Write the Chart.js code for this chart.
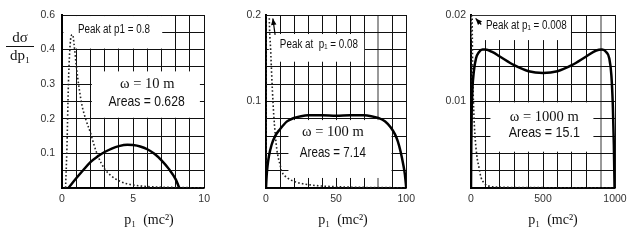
<!DOCTYPE html>
<html>
<head>
<meta charset="utf-8">
<script src="https://cdn.jsdelivr.net/npm/chart.js@4.4.1/dist/chart.umd.min.js"></script>
<style>
  html, body { margin: 0; padding: 0; background: #fff; }
  #wrap { position: relative; width: 634px; height: 242px; overflow: hidden; }
  .panel { position: absolute; top: 0; height: 242px; }
</style>
</head>
<body>
<div id="wrap">
  <div class="panel" style="left:0;width:215px"><canvas id="c1"></canvas></div>
  <div class="panel" style="left:215px;width:205px"><canvas id="c2"></canvas></div>
  <div class="panel" style="left:420px;width:214px"><canvas id="c3"></canvas></div>
</div>
<script>
// ===============================
// Data (omega = 10, 100, 1000 m)
// ===============================

// omega = 10 m
const solidX10 = [0.45, 1, 1.5, 2, 2.5, 3, 3.5, 4, 4.6, 5, 5.5, 6, 6.5, 7, 7.5, 8, 8.25];
const solidY10 = [0, 0.028, 0.052, 0.075, 0.091, 0.104, 0.114, 0.121, 0.125, 0.124, 0.12, 0.112, 0.099, 0.08, 0.056, 0.025, 0];
const dotX10 = [0.25, 0.35, 0.45, 0.55, 0.65, 0.75, 0.85, 1.0, 1.2, 1.4, 1.7, 2.0, 2.25, 2.5, 3.0, 3.5, 4.0, 4.5, 5.5, 6.5, 8, 10];
const dotY10 = [0, 0.12, 0.3, 0.4, 0.44, 0.443, 0.415, 0.355, 0.29, 0.24, 0.195, 0.16, 0.125, 0.095, 0.055, 0.034, 0.021, 0.013, 0.006, 0.003, 0.0015, 0.0005];

// omega = 100 m
const solidX100 = [0, 0.5, 1, 2, 4, 6.5, 10, 15, 20, 25, 30, 40, 50, 60, 70, 75, 80, 85, 89, 92, 94, 96, 98, 99, 100];
const solidY100 = [0, 0.015, 0.024, 0.036, 0.05, 0.06, 0.068, 0.077, 0.081, 0.083, 0.084, 0.084, 0.0835, 0.084, 0.084, 0.083, 0.081, 0.077, 0.07, 0.062, 0.054, 0.042, 0.026, 0.016, 0];
const dotX100 = [0, 0.08, 1.5, 2.3, 3.3, 4.5, 5.5, 7.7, 10, 11.3, 15, 20.6, 32, 55, 80, 100];
const dotY100 = [0, 0.9, 0.3, 0.2, 0.16, 0.115, 0.085, 0.045, 0.027, 0.019, 0.012, 0.0073, 0.0035, 0.0012, 0.0005, 0.0003];

// omega = 1000 m
const solidX1000 = [0, 2, 5, 10, 20, 35, 55, 80, 100, 150, 200, 300, 400, 500, 600, 700, 800, 870, 910, 940, 960, 975, 985, 992, 997];
const solidY1000 = [0, 0.005, 0.009, 0.0115, 0.0135, 0.015, 0.0157, 0.016, 0.016, 0.0157, 0.0152, 0.0142, 0.0135, 0.0133, 0.0135, 0.0142, 0.0152, 0.0159, 0.016, 0.0157, 0.015, 0.013, 0.0095, 0.005, 0];
const dotX1000 = [0, 1, 8, 14, 20, 28, 40, 55, 70, 90, 110, 200, 400, 1000];
const dotY1000 = [0, 0.05, 0.02, 0.012, 0.0085, 0.006, 0.0038, 0.0024, 0.0012, 0.0006, 0.0003, 0.0001, 0.00005, 0];

// Tick labels (only these ticks carry text; the rest are bare grid lines)
const xTicks10 = [0, 5, 10],        xLabels10 = ['0', '5', '10'];
const xTicks100 = [0, 50, 100],     xLabels100 = ['0', '50', '100'];
const xTicks1000 = [0, 500, 1000],  xLabels1000 = ['0', '500', '1000'];
const yTicks10 = [0.1, 0.2, 0.3, 0.4, 0.5], yLabels10 = ['0.1', '0.2', '0.3', '0.4', '0.6'];
const yTicks100 = [0.1, 0.2],       yLabels100 = ['0.1', '0.2'];
const yTicks1000 = [0.01, 0.02],    yLabels1000 = ['0.01', '0.02'];

const SANS = "'Liberation Sans', Arial, sans-serif";
const SERIF = "'Liberation Serif', 'Times New Roman', serif";

const pts = (xs, ys) => xs.map((x, i) => ({ x, y: ys[i] }));
const labelFor = (ticks, labels) => v => {
  const i = ticks.findIndex(t => Math.abs(t - v) < 1e-9);
  return i < 0 ? '' : labels[i];
};

// ===============================
// Annotation plugin: white boxes, notes, arrows, axis titles
// ===============================
const notes = {
  id: 'notes',
  beforeDatasetsDraw(chart, args, opts) {
    const { ctx, scales: { x, y } } = chart;
    ctx.save();
    ctx.fillStyle = '#fff';
    (opts.boxes || []).forEach(b => {
      const x0 = x.getPixelForValue(b[0]), x1 = x.getPixelForValue(b[1]);
      const y0 = y.getPixelForValue(b[3]), y1 = y.getPixelForValue(b[2]);
      ctx.fillRect(x0, y0, x1 - x0, y1 - y0);
    });
    ctx.restore();
  },
  afterDatasetsDraw(chart, args, opts) {
    const { ctx, scales: { x, y } } = chart;
    ctx.save();
    ctx.textAlign = 'center';
    ctx.textBaseline = 'middle';
    (opts.texts || []).forEach(t => {
      // sans notes in the original are set narrow, so squeeze them a bit
      ctx.save();
      ctx.translate(x.getPixelForValue(t.x), y.getPixelForValue(t.y));
      ctx.scale(t.squeeze || 1, 1);
      ctx.font = t.font;
      ctx.fillStyle = '#111';
      ctx.fillText(t.text, 0, 0);
      ctx.restore();
    });
    (opts.arrows || []).forEach(a => {
      const x0 = x.getPixelForValue(a[0]), y0 = y.getPixelForValue(a[1]);
      const x1 = x.getPixelForValue(a[2]), y1 = y.getPixelForValue(a[3]);
      const ang = Math.atan2(y1 - y0, x1 - x0);
      ctx.strokeStyle = '#000';
      ctx.fillStyle = '#000';
      ctx.lineWidth = 1.2;
      ctx.beginPath(); ctx.moveTo(x0, y0); ctx.lineTo(x1, y1); ctx.stroke();
      ctx.beginPath();
      ctx.moveTo(x1, y1);
      ctx.lineTo(x1 - 7 * Math.cos(ang - 0.4), y1 - 7 * Math.sin(ang - 0.4));
      ctx.lineTo(x1 - 7 * Math.cos(ang + 0.4), y1 - 7 * Math.sin(ang + 0.4));
      ctx.closePath(); ctx.fill();
    });
    ctx.restore();
  },
  afterDraw(chart, args, opts) {
    const ctx = chart.ctx;
    ctx.save();
    ctx.fillStyle = '#111';
    ctx.textAlign = 'center';
    ctx.textBaseline = 'middle';
    ctx.font = '14px ' + SERIF;
    ctx.fillText('p\u2081  (mc\u00b2)', opts.titleX, 220);
    if (opts.yTitle) {
      ctx.font = '15px ' + SERIF;
      ctx.fillText('d\u03c3', 20, 38);
      ctx.fillText('dp\u2081', 20, 56);
      ctx.strokeStyle = '#111';
      ctx.lineWidth = 1;
      ctx.beginPath(); ctx.moveTo(6, 46.5); ctx.lineTo(34, 46.5); ctx.stroke();
    }
    ctx.restore();
  }
};

function makeChart(id, c) {
  return new Chart(document.getElementById(id), {
    type: 'line',
    data: {
      datasets: [
        { data: pts(c.solidX, c.solidY), borderColor: '#000', borderWidth: 2.5, pointRadius: 0, cubicInterpolationMode: 'monotone' },
        { data: pts(c.dotX, c.dotY), borderColor: '#222', borderWidth: 1.6, borderDash: [1.6, 2.2], pointRadius: 0, cubicInterpolationMode: 'monotone' }
      ]
    },
    options: {
      responsive: true,
      maintainAspectRatio: false,
      animation: false,
      devicePixelRatio: 1,
      layout: { padding: { top: 15, right: c.padRight, bottom: 0, left: 0 } },
      plugins: {
        legend: { display: false },
        tooltip: { enabled: false },
        notes: c.notes
      },
      scales: {
        x: {
          type: 'linear', min: 0, max: c.xMax,
          afterFit: s => { s.height = 54; },
          border: { color: '#000', width: 1.5 },
          grid: {
            drawTicks: false,
            color: ctx => (c.grayX && ctx.tick && ctx.tick.value === c.grayX) ? '#999' : '#111',
            lineWidth: ctx => (c.grayX && ctx.tick && ctx.tick.value === c.grayX) ? 2 : 1
          },
          ticks: {
            stepSize: c.xMax / 10, autoSkip: false, maxRotation: 0, padding: 5,
            color: '#333', font: { family: SANS, size: 10.5 },
            callback: labelFor(c.xTicks, c.xLabels)
          }
        },
        y: {
          min: 0, max: c.yMax,
          afterFit: s => { s.width = c.yWidth; },
          border: { color: '#000', width: 2 },
          grid: { drawTicks: false, color: '#111', lineWidth: 1 },
          ticks: {
            stepSize: c.yMax / 10, autoSkip: false, padding: c.yPad, maxTicksLimit: 20,
            color: '#333', font: { family: SANS, size: 10.5 },
            callback: labelFor(c.yTicks, c.yLabels)
          }
        }
      }
    },
    plugins: [notes]
  });
}

makeChart('c1', {
  solidX: solidX10, solidY: solidY10, dotX: dotX10, dotY: dotY10,
  xMax: 10, yMax: 0.5, yWidth: 62, yPad: 7, padRight: 10,
  xTicks: xTicks10, xLabels: xLabels10, yTicks: yTicks10, yLabels: yLabels10,
  notes: {
    titleX: 149, yTitle: true,
    boxes: [[0.1, 7.05, 0.403, 0.497], [2.1, 9.7, 0.203, 0.337]],
    texts: [
      { text: 'Peak at p1 = 0.8', x: 3.65, y: 0.458, font: '12px ' + SANS, squeeze: 0.82 },
      { text: '\u03c9 = 10 m', x: 6.0, y: 0.30, font: '14.5px ' + SERIF },
      { text: 'Areas = 0.628', x: 5.95, y: 0.248, font: '14.5px ' + SANS, squeeze: 0.84 }
    ]
  }
});

makeChart('c2', {
  solidX: solidX100, solidY: solidY100, dotX: dotX100, dotY: dotY100,
  xMax: 100, yMax: 0.2, yWidth: 51, yPad: 5, padRight: 12, grayX: 80,
  xTicks: xTicks100, xLabels: xLabels100, yTicks: yTicks100, yLabels: yLabels100,
  notes: {
    titleX: 128,
    boxes: [[2, 70, 0.146, 0.178], [16, 89.5, 0.0116, 0.0785]],
    texts: [
      { text: 'Peak at  p\u2081 = 0.08', x: 37.7, y: 0.166, font: '12px ' + SANS, squeeze: 0.82 },
      { text: '\u03c9 = 100 m', x: 47.7, y: 0.0643, font: '14.5px ' + SERIF },
      { text: 'Areas = 7.14', x: 47.7, y: 0.041, font: '14.5px ' + SANS, squeeze: 0.8 }
    ],
    arrows: [[6.5, 0.177, 4.9, 0.196]]
  }
});

makeChart('c3', {
  solidX: solidX1000, solidY: solidY1000, dotX: dotX1000, dotY: dotY1000,
  xMax: 1000, yMax: 0.02, yWidth: 51, yPad: 5, padRight: 19, grayX: 900,
  xTicks: xTicks1000, xLabels: xLabels1000, yTicks: yTicks1000, yLabels: yLabels1000,
  notes: {
    titleX: 133,
    boxes: [[3, 694, 0.0171, 0.0199], [135, 850, 0.0042, 0.0099]],
    texts: [
      { text: 'Peak at p\u2081 = 0.008', x: 384, y: 0.01876, font: '12px ' + SANS, squeeze: 0.82 },
      { text: '\u03c9 = 1000 m', x: 509, y: 0.00817, font: '14.5px ' + SERIF },
      { text: 'Areas = 15.1', x: 509, y: 0.00631, font: '14.5px ' + SANS, squeeze: 0.86 }
    ],
    arrows: [[71, 0.0189, 32, 0.0196]]
  }
});
</script>
</body>
</html>
